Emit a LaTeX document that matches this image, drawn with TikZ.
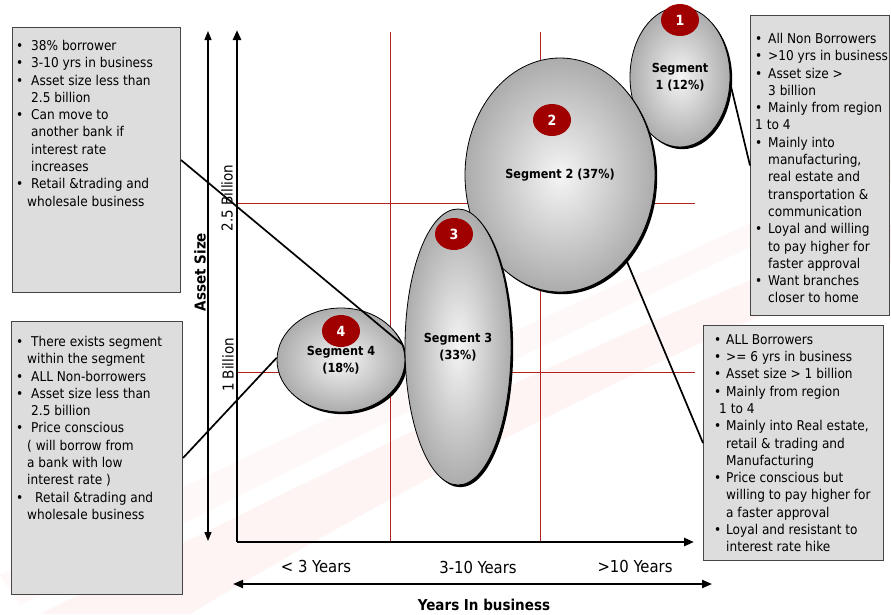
\documentclass[tikz,border=0pt]{standalone}
\usepackage{fontspec}
\setmainfont{DejaVu Sans Condensed}
\usetikzlibrary{shapes.geometric,shadows,arrows.meta}
\definecolor{gridred}{RGB}{178,34,34}
\definecolor{badgered}{RGB}{160,0,0}
\definecolor{boxfill}{RGB}{221,221,221}
\definecolor{boxline}{RGB}{70,70,70}
\definecolor{swoosh}{RGB}{254,244,244}
\newcommand{\bu}[1][15pt]{\makebox[#1][l]{•}}
\newcommand{\ind}[1]{\hspace*{#1}}
\newcommand{\fl}{\vrule height 10pt width 0pt}
\begin{document}
\begin{tikzpicture}[x=1pt,y=-1pt,
  segell/.style={ellipse, draw=black, line width=0.8pt, inner sep=0pt,
    inner color=gray!8, outer color=gray!65,
    drop shadow={shadow xshift=2.2pt, shadow yshift=-2.2pt, fill=black, opacity=1},
    align=center, font=\bfseries\fontsize{12.5}{17}\selectfont},
  badge/.style={ellipse, fill=badgered, text=white, inner sep=0pt,
    minimum width=38pt, minimum height=32pt, font=\bfseries\fontsize{14}{16}\selectfont},
  infobox/.style={rectangle, draw=boxline, line width=1pt, fill=boxfill,
    anchor=north west, inner sep=0pt},
  infotext/.style={anchor=north west, inner sep=0pt, align=left,
    font=\fontsize{13.5}{17.3}\selectfont},
  gridline/.style={draw=gridred, line width=1pt},
  connector/.style={draw=black, line width=1.7pt},
  axisline/.style={draw=black, line width=2.6pt, -{Triangle[length=10pt,width=8pt]}},
  axislabel/.style={font=\fontsize{16.5}{20}\selectfont},
]
\useasboundingbox (0,0) rectangle (891,614);
\fill[white] (0,0) rectangle (891,614);
% faint watermark swooshes
\fill[swoosh] (40,614) .. controls (330,470) and (610,330) .. (891,225)
  -- (891,262) .. controls (640,360) and (380,500) .. (190,614) -- cycle;
\fill[swoosh!60!white] (0,575) .. controls (300,430) and (600,290) .. (891,160)
  -- (891,182) .. controls (610,310) and (320,455) .. (20,605) -- cycle;

% coordinates of the axes
\coordinate (O) at (237,542);
\coordinate (ytop) at (237,30);
\coordinate (xend) at (694,542);
\coordinate (atop) at (208,31);
\coordinate (abot) at (208,541);
\coordinate (yl) at (233,584);
\coordinate (yr) at (712,584);

% grid
\draw[gridline] (390,32) -- (390,542);
\draw[gridline] (540,32) -- (540,542);
\draw[gridline] (237,203) -- (695,203);
\draw[gridline] (237,372) -- (695,372);

% axes
\draw[axisline] (O) -- (ytop);
\draw[axisline] (O) -- (xend);
\draw[line width=1.3pt, {Triangle[length=9pt,width=7pt]}-{Triangle[length=9pt,width=7pt]}] (abot) -- (atop);
\draw[line width=2pt, {Triangle[length=10pt,width=8pt]}-{Triangle[length=10pt,width=8pt]}] (yl) -- (yr);

% axis labels
\node[rotate=90, font=\bfseries\fontsize{15}{18}\selectfont] (lasset) at (200,272) {Asset Size};
\node[rotate=90, font=\fontsize{15}{18}\selectfont] (l25) at (227,198) {2.5 Billion};
\node[rotate=90, font=\fontsize{15}{18}\selectfont] (l1) at (228,365) {1 Billion};
\node[axislabel] (x1) at (316,566) {< 3 Years};
\node[axislabel] (x2) at (478,567) {3-10 Years};
\node[axislabel] (x3) at (635,566) {>10 Years};
\node[font=\bfseries\fontsize{15}{18}\selectfont] (xt) at (484,605) {Years In business};

% segments
\node[segell, minimum width=100pt, minimum height=140pt] (s1) at (680,77) {Segment\\1 (12\%)};
\node[segell, minimum width=190pt, minimum height=234pt] (s2) at (560,175) {Segment 2 (37\%)};
\node[segell, minimum width=128pt, minimum height=104pt] (s4) at (341,360) {Segment 4\\(18\%)};
\node[segell, minimum width=106pt, minimum height=276pt] (s3) at (458,347) {Segment 3\\(33\%)};

\node[badge] (n1) at (680,20) {1};
\node[badge] (n2) at (552,120) {2};
\node[badge] (n3) at (454,234) {3};
\node[badge] (n4) at (341,331) {4};

% info boxes
\node[infobox, minimum width=168pt, minimum height=265pt] (b1) at (12,27) {};
\node[infobox, minimum width=139pt, minimum height=300pt] (b2) at (750,15) {};
\node[infobox, minimum width=180pt, minimum height=235pt] (b3) at (703,325) {};
\node[infobox, minimum width=171pt, minimum height=273pt] (b4) at (11,321) {};

\node[infotext] (t1) at (16,40) {\fl\bu 38\% borrower\\
\bu 3-10 yrs in business\\
\bu Asset size less than\\
\ind{15pt}2.5 billion\\
\bu Can move to\\
\ind{15pt}another bank if\\
\ind{15pt}interest rate\\
\ind{15pt}increases\\
\bu Retail \&trading and\\
\ind{11pt}wholesale business};

\node[infotext] (t2) at (755,33) {\fl\bu[13pt]All Non Borrowers\\
\bu[13pt]>10 yrs in business\\
\bu[13pt]Asset size >\\
\ind{13pt}3 billion\\
\bu[13pt]Mainly from region\\
1 to 4\\
\bu[13pt]Mainly into\\
\ind{13pt}manufacturing,\\
\ind{13pt}real estate and\\
\ind{13pt}transportation \&\\
\ind{13pt}communication\\
\bu[13pt]Loyal and willing\\
\ind{13pt}to pay higher for\\
\ind{13pt}faster approval\\
\bu[13pt]Want branches\\
\ind{13pt}closer to home};

\node[infotext] (t3) at (714,334) {\fl\bu[12pt]ALL Borrowers\\
\bu[12pt]>= 6 yrs in business\\
\bu[12pt]Asset size > 1 billion\\
\bu[12pt]Mainly from region\\
\ind{5pt}1 to 4\\
\bu[12pt]Mainly into Real estate,\\
\ind{12pt}retail \& trading and\\
\ind{12pt}Manufacturing\\
\bu[12pt]Price conscious but\\
\ind{12pt}willing to pay higher for\\
\ind{12pt}a faster approval\\
\bu[12pt]Loyal and resistant to\\
\ind{12pt}interest rate hike};

\node[infotext] (t4) at (16,336) {\fl\bu There exists segment\\
\ind{11pt}within the segment\\
\bu ALL Non-borrowers\\
\bu Asset size less than\\
\ind{15pt}2.5 billion\\
\bu Price conscious\\
\ind{11pt}( will borrow from\\
\ind{11pt}a bank with low\\
\ind{11pt}interest rate )\\
\bu[19pt]Retail \&trading and\\
\ind{11pt}wholesale business};

% connectors
\draw[connector] (b1.east) -- (s4.14);
\draw[connector] (b4.east) -- (s4.178);
\draw[connector] (s1.-7) -- (b2.west);
\draw[connector] (s2.-52) -- (b3.west);
\end{tikzpicture}
\end{document}
